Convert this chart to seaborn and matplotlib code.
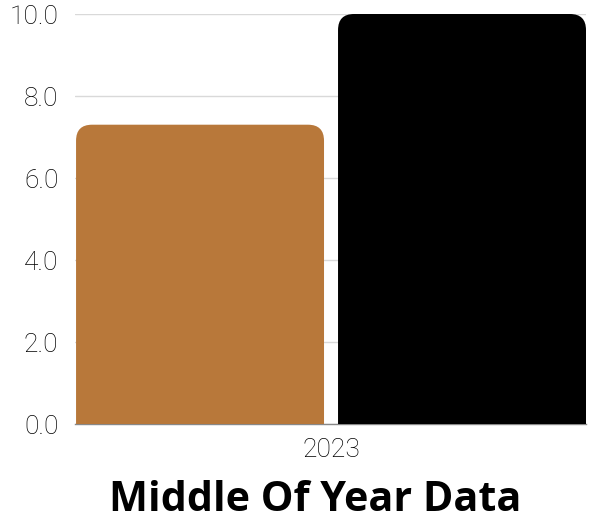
import matplotlib
matplotlib.use("Agg")
import matplotlib.pyplot as plt
import seaborn as sns
import pandas as pd
from matplotlib.patches import FancyBboxPatch

years = ["2023", "2023"]
series = ["A", "B"]
values = [7.3, 10.0]
colors = ["#B8783A", "#000000"]
yticks = [0, 2, 4, 6, 8, 10]
ytick_labels = ["0.0", "2.0", "4.0", "6.0", "8.0", "10.0"]
title = "Middle Of Year Data"

df = pd.DataFrame({"year": years, "series": series, "value": values})

sns.set_theme(style="white")
plt.rcParams["font.family"] = ["Roboto", "DejaVu Sans"]

fig = plt.figure(figsize=(6.06, 5.2), dpi=100)
ax = fig.add_axes([75/606, 1-424/520, (586-75)/606, 410/520])

g = 0.0535
sns.barplot(data=df, x="year", y="value", hue="series", palette=colors,
            width=1.0, gap=g, ax=ax, legend=False, saturation=1)

ax.set_ylim(0, 10)
ax.set_xlim(-0.5 + 0.25*g - 0.002, 0.5 - 0.25*g)
ax.figure.canvas.draw()

# replace rectangles with rounded-top bars
bbox = ax.get_window_extent()
px_per_x = bbox.width / (ax.get_xlim()[1] - ax.get_xlim()[0])
px_per_y = bbox.height / (ax.get_ylim()[1] - ax.get_ylim()[0])
r_px = 16 * fig.dpi / 100
rx = r_px / px_per_x
aspect = (r_px / px_per_y) / rx

for p in list(ax.patches):
    x, y, w, h = p.get_x(), p.get_y(), p.get_width(), p.get_height()
    fc = p.get_facecolor()
    p.remove()
    extra = 1.0
    fb = FancyBboxPatch((x, y - extra), w, h + extra,
                        boxstyle=f"round,pad=0,rounding_size={rx}",
                        mutation_aspect=aspect, facecolor=fc, edgecolor="none",
                        zorder=3)
    ax.add_patch(fb)

ax.set_yticks(yticks)
ax.set_yticklabels(ytick_labels)
ax.grid(axis="y", color="#d9d9d9", linewidth=1.0, zorder=0)
ax.set_axisbelow(True)
for s in ["left", "right", "top"]:
    ax.spines[s].set_visible(False)
ax.spines["bottom"].set_color("#888888")
ax.spines["bottom"].set_linewidth(1.0)
ax.spines["bottom"].set_zorder(1)
ax.tick_params(axis="both", length=0, labelsize=19, colors="#000000")
ax.tick_params(axis="y", pad=12)
ax.tick_params(axis="x", pad=10)
for lab in ax.get_xticklabels() + ax.get_yticklabels():
    lab.set_fontweight("light")
ax.set_xlabel("")
ax.set_ylabel("")

fig.text(315/606, 1-511/520, title, ha="center", va="baseline",
         fontsize=29.7, fontweight="bold", family=["Open Sans", "DejaVu Sans"],
         color="#000000")

fig.savefig("out.png", dpi=100)
